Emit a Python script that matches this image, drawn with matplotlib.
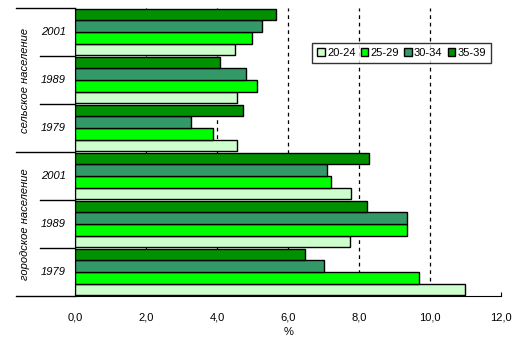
import matplotlib.pyplot as plt
import numpy as np

# groups, bottom to top
years = ['1979', '1989', '2001', '1979', '1989', '2001']
groups = ['городское население', 'сельское население']
ages = ['20-24', '25-29', '30-34', '35-39']
colors = ['#CCFFCC', '#00FF00', '#339966', '#009000']

v_20_24 = [10.97, 7.73, 7.76, 4.57, 4.55, 4.49]
v_25_29 = [9.70, 9.36, 7.22, 3.89, 5.13, 4.99]
v_30_34 = [7.00, 9.34, 7.08, 3.27, 4.80, 5.25]
v_35_39 = [6.46, 8.21, 8.29, 4.72, 4.08, 5.67]
series = [v_20_24, v_25_29, v_30_34, v_35_39]

plt.rcParams['font.family'] = ['Liberation Sans', 'DejaVu Sans']
plt.rcParams['font.size'] = 8

fig = plt.figure(figsize=(5.28, 3.46), dpi=100)
ax = fig.add_axes([0.1426, 0.1445, 0.8064, 0.8324])

pos = np.arange(len(years)) + 0.5
h = 0.24
for j, vals in enumerate(series):
    ax.barh(pos + (j - 1.5) * h, vals, height=h, color=colors[j],
            edgecolor='black', linewidth=1.0, label=ages[j], zorder=3)

ax.set_xlim(0, 12)
ax.set_ylim(0, 6)
ax.set_xticks(np.arange(0, 13, 2))
ax.set_xticklabels([f'{t:.1f}'.replace('.', ',') for t in np.arange(0, 13, 2)])
ax.set_yticks([])
ax.tick_params(axis='x', direction='in', length=3, pad=12)
for t in [2, 4, 6, 8, 10]:
    ax.axvline(t, color='black', linestyle=(0, (3, 3)), linewidth=0.9, zorder=1)

ax.spines['top'].set_visible(False)
ax.spines['right'].set_visible(False)
ax.set_xlabel('%', labelpad=3)

# multi-level category axis
for y in [0, 3, 6]:
    ax.plot([-1.67, 0], [y, y], color='black', linewidth=1, clip_on=False)
for y in [1, 2, 4, 5]:
    ax.plot([-0.99, 0], [y, y], color='black', linewidth=1, clip_on=False)
for p, yr in zip(pos, years):
    ax.text(-0.62, p, yr, ha='center', va='center', style='italic', fontsize=8)
for k, g in enumerate(groups):
    ax.text(-1.42, 1.5 + 3 * k, g, ha='center', va='center', rotation=90,
            style='italic', fontsize=8)

leg = ax.legend(loc='upper left', bbox_to_anchor=(0.556, 0.878), ncol=4,
                frameon=True, fancybox=False, edgecolor='black',
                handlelength=0.7, handleheight=0.7, handletextpad=0.2,
                columnspacing=0.45, borderpad=0.45, borderaxespad=0, fontsize=8)
leg.get_frame().set_linewidth(1)

fig.savefig('out.png', dpi=100)
